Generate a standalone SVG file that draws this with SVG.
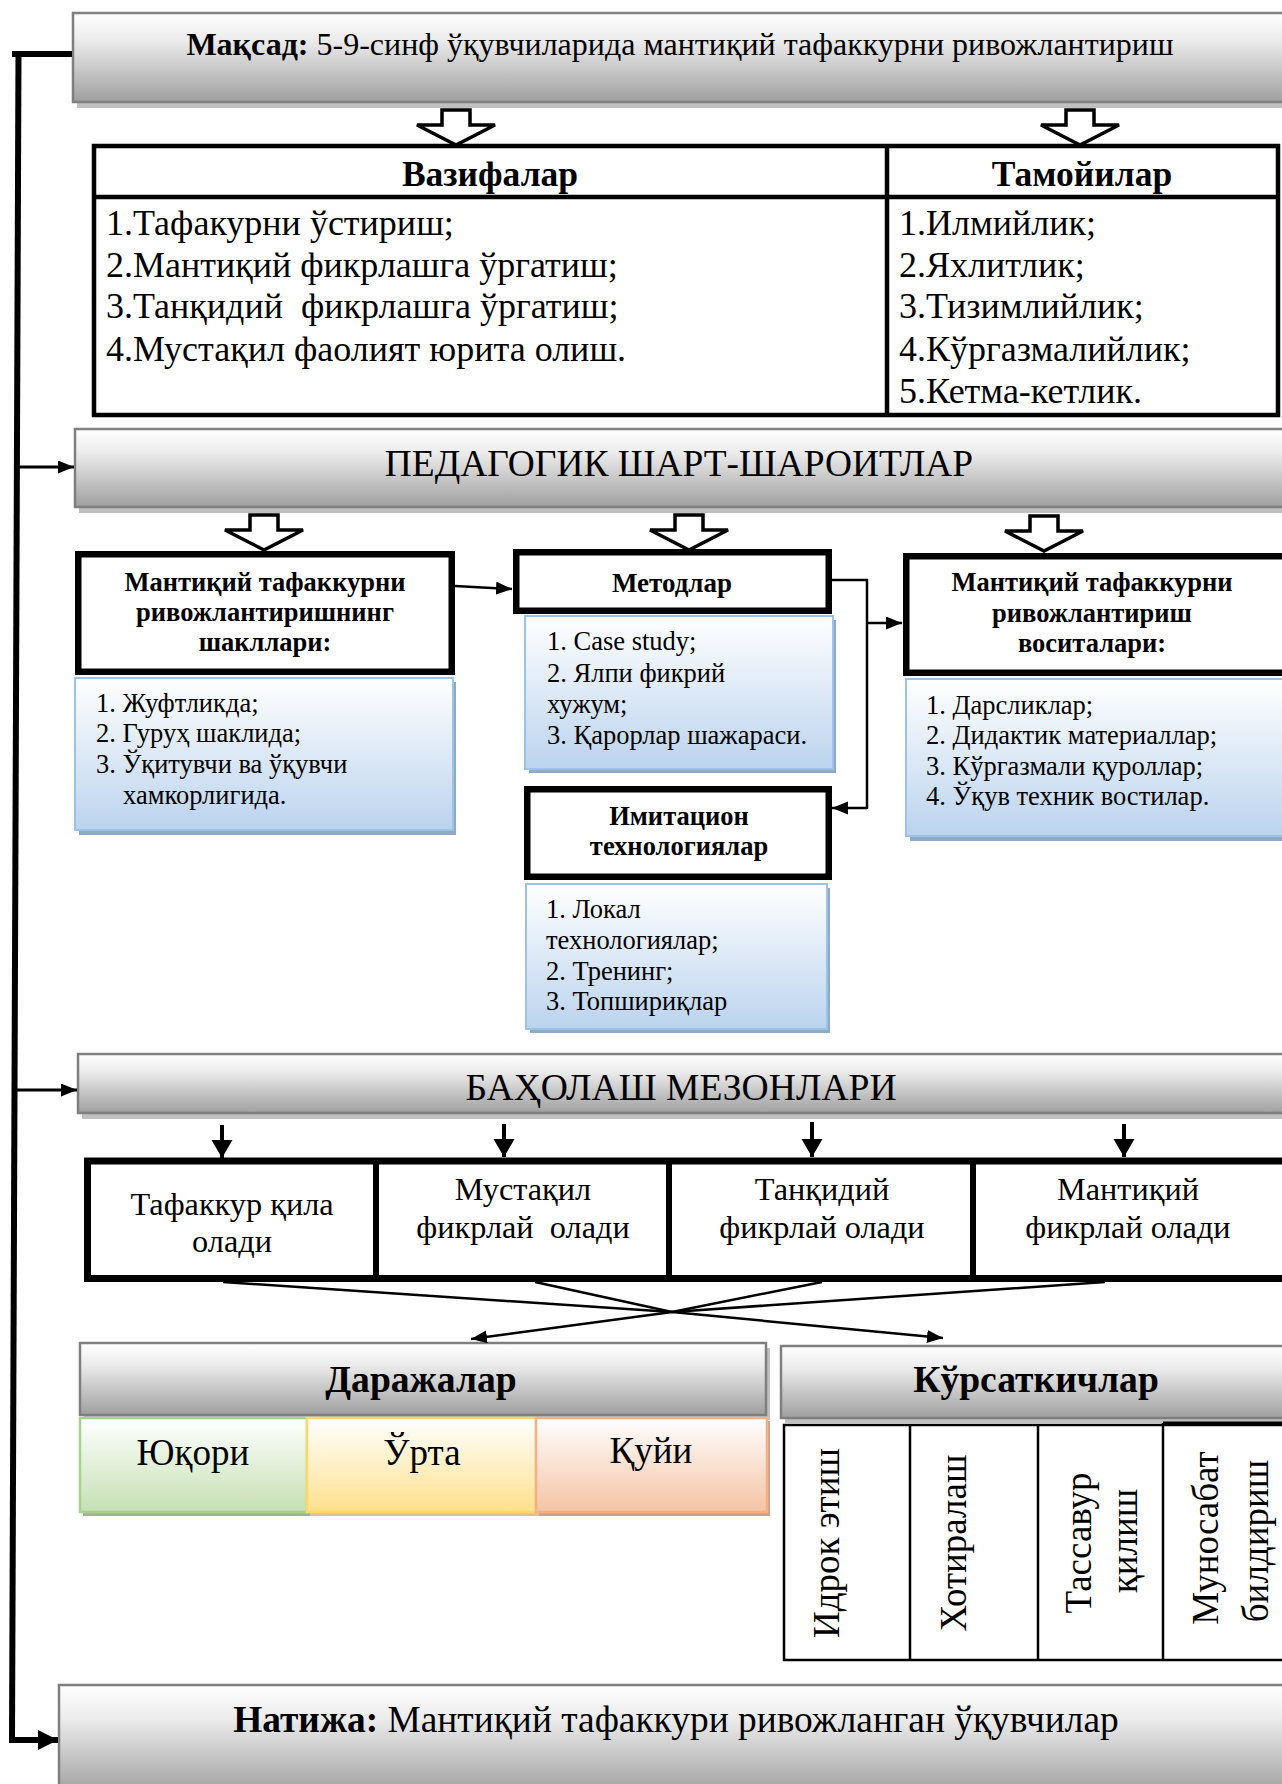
<svg xmlns="http://www.w3.org/2000/svg" width="1282" height="1784" viewBox="0 0 1282 1784">
<defs>
<style>
text{font-family:"Liberation Serif","Times New Roman",serif;fill:#000}
.b{font-weight:bold}
.c{text-anchor:middle}
.bar{fill:url(#gGray);stroke:#7f7f7f;stroke-width:2.5}
.shd{fill:#c0c0c0}
.blue{fill:url(#gBlue);stroke:#9cc2e5;stroke-width:2}
.bshd{fill:#8fa9c6}
.box{fill:#fff;stroke:#000;stroke-width:6.5}
.tbl{fill:#fff;stroke:#000;stroke-width:4.5}
.thin{fill:none;stroke:#000;stroke-width:2.5}
.conn{fill:none;stroke:#000}
.hollow{fill:#fff;stroke:#000;stroke-width:3.5;stroke-linejoin:miter}
.lst{font-size:26.5px}
.hdr{font-size:26.5px;font-weight:bold;text-anchor:middle}
</style>
<linearGradient id="gGray" x1="0" y1="0" x2="0" y2="1"><stop offset="0" stop-color="#ffffff"/><stop offset="0.3" stop-color="#ececec"/><stop offset="1" stop-color="#9f9f9f"/></linearGradient>
<linearGradient id="gBlue" x1="0" y1="0" x2="0" y2="1"><stop offset="0" stop-color="#ffffff"/><stop offset="1" stop-color="#bbd3ee"/></linearGradient>
<linearGradient id="gGreen" x1="0" y1="0" x2="0" y2="1"><stop offset="0" stop-color="#ffffff"/><stop offset="1" stop-color="#c5e0b3"/></linearGradient>
<linearGradient id="gYellow" x1="0" y1="0" x2="0" y2="1"><stop offset="0" stop-color="#ffffff"/><stop offset="1" stop-color="#ffe08c"/></linearGradient>
<linearGradient id="gOrange" x1="0" y1="0" x2="0" y2="1"><stop offset="0" stop-color="#ffffff"/><stop offset="1" stop-color="#f5c3a3"/></linearGradient>
<path id="hol" d="M -14 0 H 14 V 15 H 39 L 0 35 L -39 15 H -14 Z"/>
<marker id="ahS" markerUnits="userSpaceOnUse" markerWidth="18" markerHeight="14" refX="16" refY="6.5" orient="auto"><path d="M0,0 L16,6.5 L0,13 Z" fill="#000"/></marker>
<marker id="ahD" markerUnits="userSpaceOnUse" markerWidth="20" markerHeight="22" refX="18" refY="10.5" orient="auto"><path d="M0,0 L18,10.5 L0,21 Z" fill="#000"/></marker>
<marker id="ahT" markerUnits="userSpaceOnUse" markerWidth="22" markerHeight="22" refX="20" refY="10" orient="auto"><path d="M0,0 L20,10 L0,20 Z" fill="#000"/></marker>
</defs>

<g id="maqsad">
<rect class="shd" x="77" y="18" width="1210" height="90"/>
<rect class="bar" x="73" y="13" width="1212" height="89"/>
<text x="680" y="55" font-size="32" class="c"><tspan class="b">Мақсад:</tspan> 5-9-синф ўқувчиларида мантиқий тафаккурни ривожлантириш</text>
</g>

<g id="vazifa-tamoyil">
<rect class="tbl" x="94" y="146" width="1184" height="269"/>
<line class="tbl" x1="94" y1="197" x2="1278" y2="197"/>
<line class="tbl" x1="887" y1="146" x2="887" y2="415"/>
<text x="490" y="186" font-size="35.5" class="b c">Вазифалар</text>
<text x="1082" y="186" font-size="35.5" class="b c">Тамойилар</text>
<text font-size="36" x="106"><tspan x="106" y="235">1.Тафакурни ўстириш;</tspan><tspan x="106" y="277">2.Мантиқий фикрлашга ўргатиш;</tspan><tspan x="106" y="318">3.Танқидий&#160; фикрлашга ўргатиш;</tspan><tspan x="106" y="361">4.Мустақил фаолият юрита олиш.</tspan></text>
<text font-size="36" x="899"><tspan x="899" y="235">1.Илмийлик;</tspan><tspan x="899" y="277">2.Яхлитлик;</tspan><tspan x="899" y="318">3.Тизимлийлик;</tspan><tspan x="899" y="361">4.Кўргазмалийлик;</tspan><tspan x="899" y="403">5.Кетма-кетлик.</tspan></text>
</g>

<g id="pedagogik">
<rect class="shd" x="79" y="434" width="1210" height="79"/>
<rect class="bar" x="75" y="429" width="1212" height="78"/>
<text x="679" y="476" font-size="37.4" class="c">ПЕДАГОГИК ШАРТ-ШАРОИТЛАР</text>
</g>

<g id="shakllar">
<rect class="box" x="78.25" y="554.25" width="373.5" height="117.5"/>
<text class="hdr"><tspan x="265" y="591">Мантиқий тафаккурни</tspan><tspan x="265" y="621">ривожлантиришнинг</tspan><tspan x="265" y="651">шакллари:</tspan></text>
</g>
<g id="shakllar-list">
<rect class="bshd" x="79" y="682" width="377" height="153"/>
<rect class="blue" x="75" y="678" width="378" height="152"/>
<text class="lst"><tspan x="96" y="712">1. Жуфтликда;</tspan><tspan x="96" y="742">2. Гуруҳ шаклида;</tspan><tspan x="96" y="773">3. Ўқитувчи ва ўқувчи</tspan><tspan x="123" y="804">хамкорлигида.</tspan></text>
</g>

<g id="metodlar">
<rect class="box" x="516.25" y="552.25" width="312.5" height="58.5"/>
<text x="672" y="592" font-size="27" class="b c">Методлар</text>
</g>
<g id="metodlar-list">
<rect class="bshd" x="529" y="620" width="307" height="153"/>
<rect class="blue" x="525" y="616" width="308" height="153"/>
<text class="lst"><tspan x="547" y="650">1. Case study;</tspan><tspan x="547" y="682">2. Ялпи фикрий</tspan><tspan x="547" y="713">хужум;</tspan><tspan x="547" y="744">3. Қарорлар шажараси.</tspan></text>
</g>

<g id="vositalar">
<rect class="box" x="906.25" y="556.25" width="380" height="116.5"/>
<text class="hdr"><tspan x="1092" y="591">Мантиқий тафаккурни</tspan><tspan x="1092" y="622">ривожлантириш</tspan><tspan x="1092" y="652">воситалари:</tspan></text>
</g>
<g id="vositalar-list">
<rect class="bshd" x="910" y="683" width="380" height="158"/>
<rect class="blue" x="906" y="679" width="380" height="157"/>
<text class="lst"><tspan x="926" y="714">1. Дарсликлар;</tspan><tspan x="926" y="744">2. Дидактик материаллар;</tspan><tspan x="926" y="775">3. Кўргазмали қуроллар;</tspan><tspan x="926" y="805">4. Ўқув техник востилар.</tspan></text>
</g>

<g id="imitatsion">
<rect class="box" x="527.25" y="789.25" width="301.5" height="87.5"/>
<text class="hdr"><tspan x="679" y="825">Имитацион</tspan><tspan x="679" y="855">технологиялар</tspan></text>
</g>
<g id="imitatsion-list">
<rect class="bshd" x="530" y="888" width="300" height="145"/>
<rect class="blue" x="526" y="884" width="301" height="145"/>
<text class="lst"><tspan x="546" y="918">1. Локал</tspan><tspan x="546" y="949">технологиялар;</tspan><tspan x="546" y="980">2. Тренинг;</tspan><tspan x="546" y="1010">3. Топшириқлар</tspan></text>
</g>

<g id="baholash">
<rect class="shd" x="82" y="1059" width="1210" height="60"/>
<rect class="bar" x="78" y="1054" width="1212" height="59"/>
<text x="681" y="1100" font-size="37.6" class="c">БАҲОЛАШ МЕЗОНЛАРИ</text>
</g>

<g id="mezonlar">
<rect x="87.5" y="1161" width="1200" height="117.5" fill="#fff" stroke="#000" stroke-width="7"/>
<line x1="376" y1="1158" x2="376" y2="1282" stroke="#000" stroke-width="6"/>
<line x1="669" y1="1158" x2="669" y2="1282" stroke="#000" stroke-width="6"/>
<line x1="973" y1="1158" x2="973" y2="1282" stroke="#000" stroke-width="6"/>
<text font-size="32.3" class="c"><tspan x="232" y="1215">Тафаккур қила</tspan><tspan x="232" y="1252">олади</tspan></text>
<text font-size="32.3" class="c"><tspan x="523" y="1200">Мустақил</tspan><tspan x="523" y="1238">фикрлай&#160; олади</tspan></text>
<text font-size="32.3" class="c"><tspan x="822" y="1200">Танқидий</tspan><tspan x="822" y="1238">фикрлай олади</tspan></text>
<text font-size="32.3" class="c"><tspan x="1128" y="1200">Мантиқий</tspan><tspan x="1128" y="1238">фикрлай олади</tspan></text>
</g>

<g id="darajalar">
<rect class="shd" x="84" y="1348" width="686" height="72"/>
<rect class="bar" x="80" y="1343" width="686" height="72"/>
<text x="421" y="1392" font-size="37.6" class="b c">Даражалар</text>
</g>
<g id="yuqori">
<rect x="83" y="1421" width="227" height="95" fill="#9fb394"/>
<rect x="80" y="1418" width="227" height="94" fill="url(#gGreen)" stroke="#a9d18e" stroke-width="2.5"/>
<text x="193" y="1465" font-size="37" class="c">Юқори</text>
</g>
<g id="orta">
<rect x="310" y="1421" width="229" height="95" fill="#d9c48e"/>
<rect x="307" y="1418" width="229" height="94" fill="url(#gYellow)" stroke="#ffd966" stroke-width="2.5"/>
<text x="422" y="1465" font-size="37" class="c">Ўрта</text>
</g>
<g id="quyi">
<rect x="539" y="1421" width="231" height="95" fill="#c9a28c"/>
<rect x="536" y="1418" width="231" height="94" fill="url(#gOrange)" stroke="#f4b183" stroke-width="2.5"/>
<text x="651" y="1463" font-size="37" class="c">Қуйи</text>
</g>

<g id="korsatkichlar">
<rect class="shd" x="785" y="1351" width="510" height="72"/>
<rect class="bar" x="781" y="1346" width="510" height="72"/>
<text x="1036" y="1392" font-size="37.6" class="b c">Кўрсаткичлар</text>
</g>
<g id="korsatkich-table">
<rect class="thin" x="784" y="1425" width="510" height="235" fill="#fff"/>
<line class="thin" x1="910" y1="1425" x2="910" y2="1660"/>
<line class="thin" x1="1038" y1="1425" x2="1038" y2="1660"/>
<line class="thin" x1="1163" y1="1423" x2="1163" y2="1660"/>
<line x1="1163" y1="1423" x2="1282" y2="1423" stroke="#000" stroke-width="3"/>
<text font-size="37" class="c" transform="translate(839,1543) rotate(-90)">Идрок этиш</text>
<text font-size="37" class="c" transform="translate(966,1543) rotate(-90)">Хотиралаш</text>
<text font-size="37" class="c" transform="translate(1091,1543) rotate(-90)">Тассавур</text>
<text font-size="37" class="c" transform="translate(1137,1541) rotate(-90)">қилиш</text>
<text font-size="37" class="c" transform="translate(1218,1538) rotate(-90)">Муносабат</text>
<text font-size="37" class="c" transform="translate(1268,1541) rotate(-90)">билдириш</text>
</g>

<g id="natija">
<rect class="bar" x="59" y="1685" width="1228" height="110"/>
<text x="676" y="1732" font-size="37.4" class="c"><tspan class="b">Натижа:</tspan> Мантиқий тафаккури ривожланган ўқувчилар</text>
</g>

<g id="connectors">
<use href="#hol" x="456" y="110" class="hollow"/>
<use href="#hol" x="1080" y="110" class="hollow"/>
<use href="#hol" x="264" y="515" class="hollow"/>
<use href="#hol" x="689" y="515" class="hollow"/>
<use href="#hol" x="1044" y="516" class="hollow"/>
<path class="conn" stroke-width="6" d="M 12 54 H 72"/>
<path class="conn" stroke-width="6" d="M 18.5 51 L 12 1740"/>
<path class="conn" stroke-width="6" d="M 9 1740 H 58" marker-end="url(#ahT)"/>
<path class="conn" stroke-width="3" d="M 17 467 H 74" marker-end="url(#ahS)"/>
<path class="conn" stroke-width="3" d="M 15 1090 H 77" marker-end="url(#ahS)"/>
<path class="conn" stroke-width="2.5" d="M 455 586 L 512 589" marker-end="url(#ahS)"/>
<path class="conn" stroke-width="2.5" d="M 832 580 H 867 V 809"/>
<path class="conn" stroke-width="2.5" d="M 867 623 H 902" marker-end="url(#ahS)"/>
<path class="conn" stroke-width="2.5" d="M 867 808 H 832" marker-end="url(#ahS)"/>
<path class="conn" stroke-width="4" d="M 222 1125 V 1158" marker-end="url(#ahD)"/>
<path class="conn" stroke-width="4" d="M 504 1124 V 1157" marker-end="url(#ahD)"/>
<path class="conn" stroke-width="4" d="M 812 1122 V 1157" marker-end="url(#ahD)"/>
<path class="conn" stroke-width="4" d="M 1124 1124 V 1157" marker-end="url(#ahD)"/>
<path class="conn" stroke-width="2.5" d="M 223 1282 L 672 1312 L 943 1338" marker-end="url(#ahS)"/>
<path class="conn" stroke-width="2.5" d="M 1105 1282 L 672 1312 L 471 1339" marker-end="url(#ahS)"/>
<path class="conn" stroke-width="2.5" d="M 535 1282 L 672 1312"/>
<path class="conn" stroke-width="2.5" d="M 822 1282 L 672 1312"/>
</g>
</svg>
